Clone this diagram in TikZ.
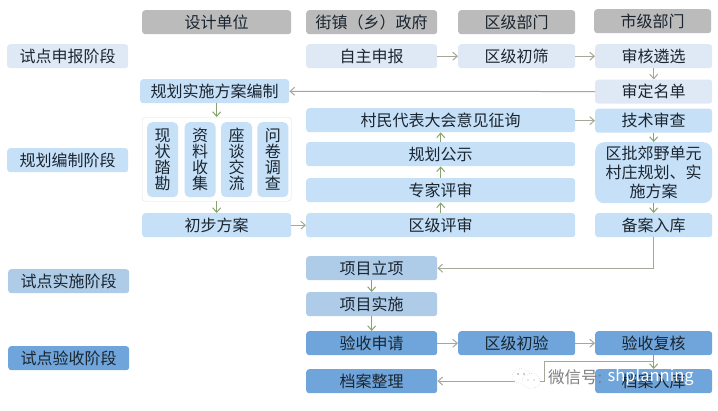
\documentclass[tikz,border=0pt]{standalone}
\usepackage{fontspec}
\setmainfont{Noto Sans CJK SC}
\usetikzlibrary{positioning}
\usetikzlibrary{arrows.meta}
\definecolor{headgray}{HTML}{BBBBBB}
\definecolor{palebox}{HTML}{DEE9F5}
\definecolor{skybox}{HTML}{C6E0F8}
\definecolor{midbox}{HTML}{AECBE8}
\definecolor{deepbox}{HTML}{6FA5DA}
\definecolor{linkgray}{HTML}{A3A897}
\definecolor{linkgreen}{HTML}{88A36C}
\definecolor{inkblue}{HTML}{1A2530}
\tikzset{
  box/.style={rounded corners=3pt,inner sep=0pt,minimum height=24pt,text=inkblue,font=\fontsize{16}{17}\selectfont,anchor=north west},
  head/.style={box,fill=headgray},
  pale/.style={box,fill=palebox},
  sky/.style={box,fill=skybox},
  mid/.style={box,fill=midbox},
  deep/.style={box,fill=deepbox},
  wstage/.style={minimum width=121pt},
  wdes/.style={minimum width=149pt},
  wtown/.style={minimum width=131pt},
  wdist/.style={minimum width=117pt},
  wcity/.style={minimum width=117pt},
  wlong/.style={minimum width=269pt},
  tall/.style={sky,minimum width=31pt,minimum height=75pt,rounded corners=5pt,align=center,font=\fontsize{16}{16}\selectfont},
  link/.style={draw=linkgray,line width=1pt,-{Straight Barb[length=4.5pt,width=8pt]}},
  down/.style={draw=linkgreen,line width=1pt,-{Straight Barb[length=4.5pt,width=8pt]}},
  wmark/.style={font=\fontsize{16.5}{17}\selectfont,anchor=west,inner sep=0pt},
}
\begin{document}
\begin{tikzpicture}[x=1pt,y=-1pt]
  \useasboundingbox (0,0) rectangle (718,410);
  % column heads
  \node[head,wdes] (hdes) at (142,10) {设计单位};
  \node[head,wtown] (htown) at (306,10) {街镇（乡）政府};
  \node[head,wdist] (hdist) at (458,10) {区级部门};
  \node[head,wcity] (hcity) at (594,9) {市级部门};
  % stages
  \node[pale,wstage] (s1) at (7,44) {试点申报阶段};
  \node[sky,wstage] (s2) at (7,148) {规划编制阶段};
  \node[mid,wstage] (s3) at (8,269) {试点实施阶段};
  \node[deep,wstage] (s4) at (8,346) {试点验收阶段};
  % application
  \node[pale,wtown] (zizhu) at (306,44) {自主申报};
  \node[pale,wdist] (chushai) at (458,44) {区级初筛};
  \node[pale,wcity] (shenhe) at (595,44) {审核遴选};
  \node[pale,wcity,below=11pt of shenhe.south west,anchor=north west] (shending) {审定名单};
  % planning
  \node[sky,wdes] (bianzhi) at (140,79) {规划实施方案编制};
  \node[draw=black!12,rounded corners=3pt,fill=white,minimum width=149pt,minimum height=84pt,inner sep=0pt,anchor=north west] (frame) at (142,117) {};
  \node[tall] (xianzhuang) at (147,122) {现\\状\\踏\\勘};
  \node[tall,right=6pt of xianzhuang.north east,anchor=north west] (ziliao) {资\\料\\收\\集};
  \node[tall,right=5pt of ziliao.north east,anchor=north west] (zuotan) {座\\谈\\交\\流};
  \node[tall,right=5pt of zuotan.north east,anchor=north west] (wenjuan) {问\\卷\\调\\查};
  \node[sky,wdes] (chubu) at (142,213) {初步方案};
  \node[sky,wlong] (cunmin) at (306,108) {村民代表大会意见征询};
  \node[sky,wlong] (gongshi) at (306,142) {规划公示};
  \node[sky,wlong] (zhuanjia) at (306,178) {专家评审};
  \node[sky,wlong] (pingshen) at (306,213) {区级评审};
  \node[sky,wcity] (jishu) at (595,108.5) {技术审查};
  \node[sky,wcity,minimum height=61pt,rounded corners=9pt,align=center,font=\fontsize{16}{19}\selectfont] (qupi) at (595,142) {区批郊野单元\\村庄规划、实\\施方案};
  \node[sky,wcity] (beian) at (595,213) {备案入库};
  % implementation
  \node[mid,wtown] (lixiang) at (306,256) {项目立项};
  \node[mid,wtown] (shishi) at (306,292) {项目实施};
  % acceptance
  \node[deep,wtown] (shenqing) at (306,331) {验收申请};
  \node[deep,wdist] (chuyan) at (458,331) {区级初验};
  \node[deep,wcity] (fuhe) at (595,331) {验收复核};
  \node[deep,wtown] (dangan) at (306,369) {档案整理};
  \node[deep,wcity] (ruku) at (595,369) {档案入库};
  % links
  \draw[link] (zizhu) -- (chushai);
  \draw[link] (chushai) -- (shenhe);
  \draw[link] (shenhe) -- (shending);
  \draw[link] (shending) -- (bianzhi);
  \draw[down] (bianzhi.south -| frame) -- (frame);
  \draw[down] (frame) -- (chubu);
  \draw[link] (chubu) -- (pingshen);
  \draw[down] (pingshen) -- (zhuanjia);
  \draw[down] (zhuanjia) -- (gongshi);
  \draw[down] (gongshi) -- (cunmin);
  \draw[link] (cunmin.east |- jishu) -- (jishu);
  \draw[down] (jishu) -- (qupi);
  \draw[down] (qupi) -- (beian);
  \draw[link] (beian.south) |- (lixiang);
  \draw[down] (lixiang) -- (shishi);
  \draw[down] (shishi) -- (shenqing);
  \draw[link] (shenqing) -- (chuyan);
  \draw[link] (chuyan) -- (fuhe);
  \draw[down] (fuhe) -- (ruku);
  \coordinate (branch) at (fuhe.south |- 0,361);
  \draw[link] (branch) -| (544,381) -- (dangan.east |- 0,381);
  % watermark
  \fill[white,draw=black!35,dotted] (521,376) ellipse (9pt and 7.5pt);
  \fill[white,draw=black!35,dotted] (531,381) ellipse (9pt and 7.5pt);
  \fill[black!40] (518,374) circle (0.8pt) (524,374) circle (0.8pt) (528,380) circle (0.7pt) (534,380) circle (0.7pt);
  \node[wmark,text=black!50] (markgray) at (548,377) {微信号:};
  \node[wmark,text=white,right=5pt of markgray.east,anchor=west] (markwhite) {shplanning};
\end{tikzpicture}
\end{document}
